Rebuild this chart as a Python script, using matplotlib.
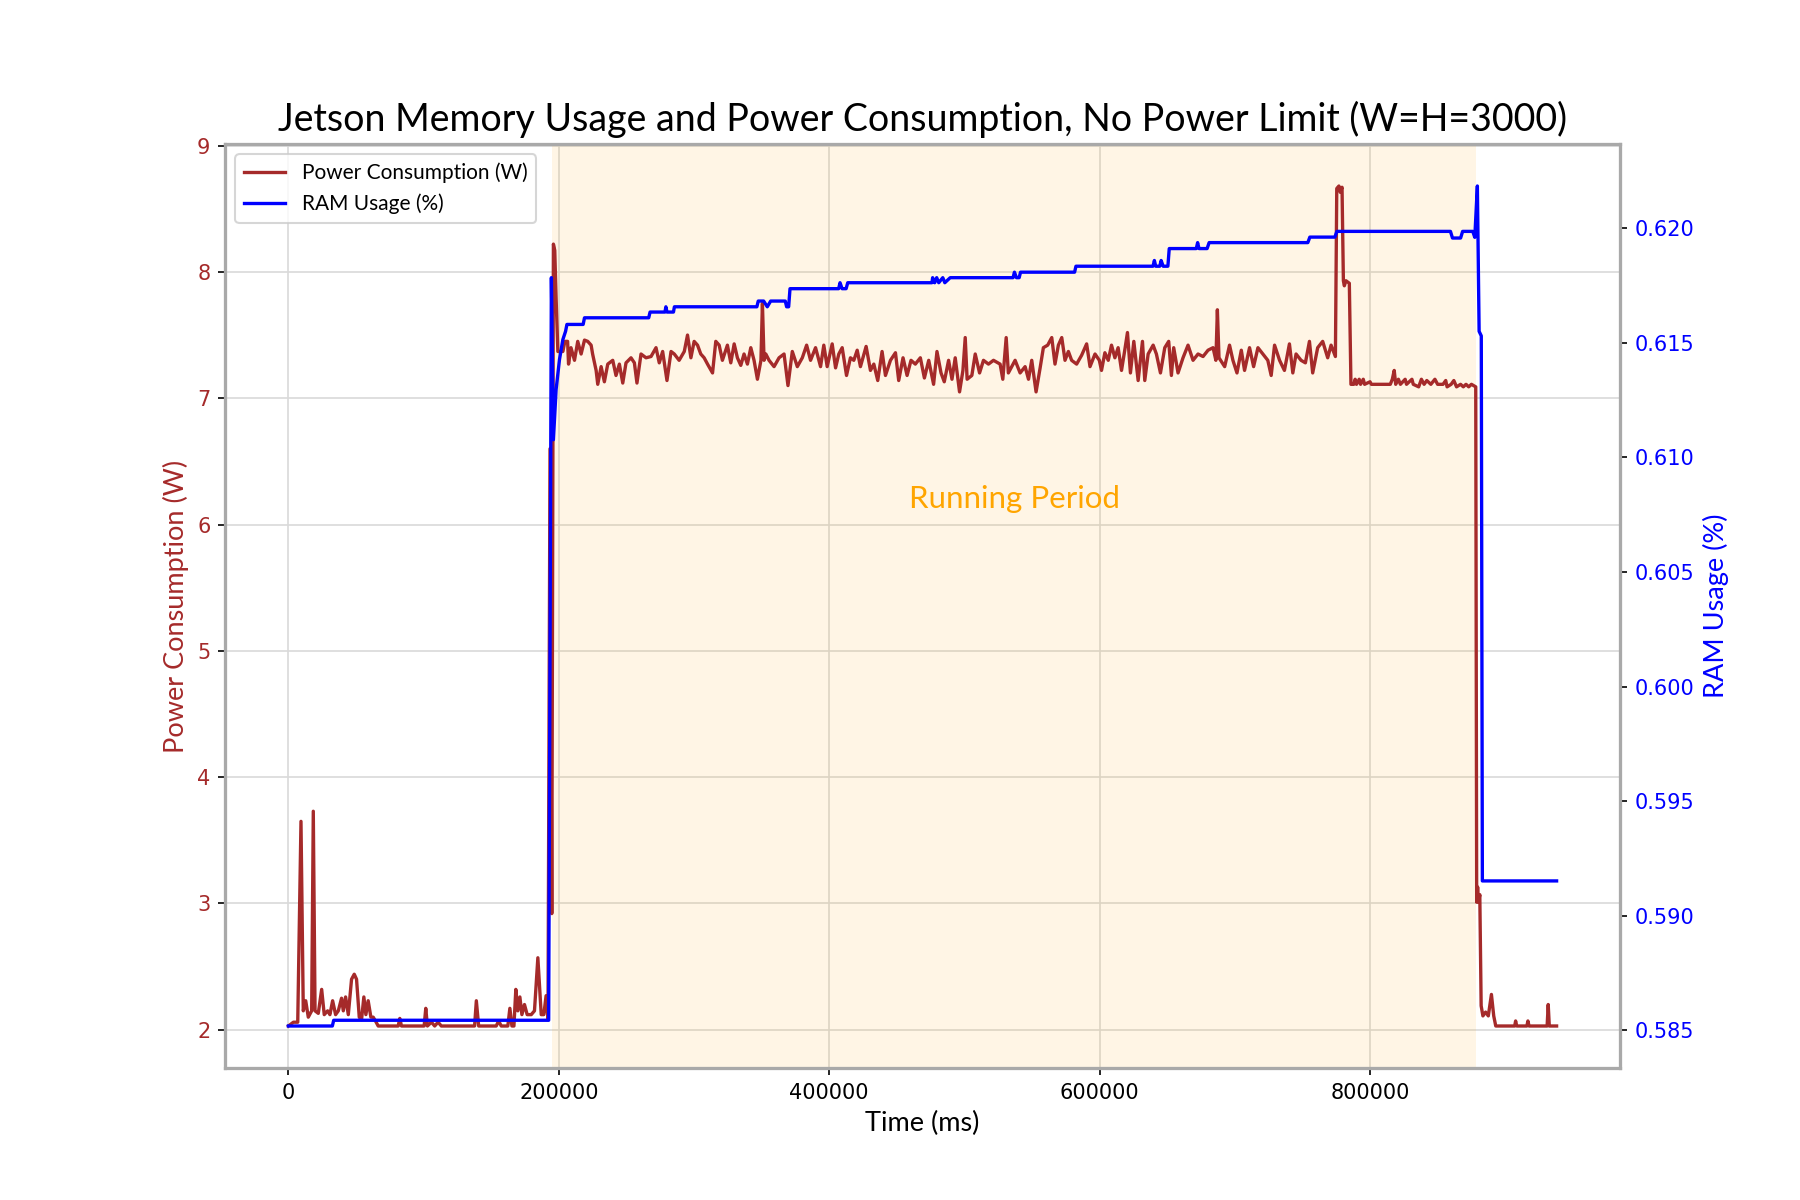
import matplotlib
matplotlib.use('Agg')
import matplotlib.pyplot as plt

# power trace (ms, W)
power_t = [
    0, 3700, 6900, 9300, 11000, 12800, 14700, 17200, 18400, 19700, 22100, 24600, 26500, 29000,
    30700, 32700, 34900, 36900, 39300, 40600, 42300, 44300, 46700, 48700, 50400, 52400, 54100,
    55800, 57300, 59000, 61000, 62700, 64400, 66400, 81200, 82400, 83600, 100400, 101600, 102800,
    105800, 108200, 110700, 113100, 137700, 139000, 140700, 153700, 155500, 157400, 162300, 163800,
    165300, 166800, 168200, 169700, 171200, 172700, 174600, 176600, 179600, 182000, 184500, 187000,
    188900, 190600, 192000, 193500, 194800, 196000, 197000, 198000, 199300, 201500, 203000, 204500,
    206500, 207200, 209000, 211600, 214000, 216500, 219000, 221400, 223900, 225000, 227600, 228800,
    231300, 233700, 236200, 239900, 242300, 244800, 247300, 249700, 253400, 255900, 257800, 260800,
    264500, 268200, 271900, 274300, 276800, 280000, 283000, 285400, 289000, 292800, 295200, 297700,
    300100, 302600, 305000, 307500, 310000, 313700, 316100, 318600, 321000, 324700, 327200, 329700,
    332100, 334600, 337000, 339500, 342000, 344400, 346900, 349500, 350600, 351800, 353100, 355500,
    359200, 362900, 366600, 369500, 372700, 376400, 380100, 383300, 386200, 389900, 393600, 396000,
    398500, 402200, 404700, 407100, 409600, 412800, 415700, 418200, 420700, 423100, 427300, 430500,
    433000, 435900, 439100, 441600, 445300, 449000, 451400, 454600, 457600, 460500, 463700, 467400,
    470400, 473600, 477200, 479700, 482700, 485100, 488300, 490800, 493200, 496400, 498900, 500600,
    502000, 505500, 508000, 511200, 514100, 517800, 521500, 526400, 528400, 530900, 532500, 537500,
    541200, 544900, 547400, 549800, 553000, 556000, 558400, 561600, 564600, 567000, 569500, 572000,
    574400, 576900, 579300, 583000, 586700, 590400, 592900, 596600, 599800, 601400, 603900, 606400,
    608800, 611300, 613700, 616200, 618600, 620600, 622800, 625300, 628500, 631700, 633400, 635900,
    639600, 642000, 645000, 648200, 651100, 653100, 654800, 658000, 661700, 665400, 669100, 672800,
    676500, 680200, 683900, 686000, 687100, 688300, 692500, 696100, 698600, 701600, 704800, 707200,
    710900, 713900, 717100, 720700, 724400, 726900, 729400, 733100, 736700, 740400, 742900, 745300,
    749000, 752200, 755200, 757600, 761300, 765000, 768700, 771200, 774400, 775400, 777000, 778000,
    779300, 780300, 781000, 782200, 784700, 785900, 788000, 789000, 790000, 792000, 793000, 795000,
    796000, 800000, 801000, 815000, 816500, 817900, 819000, 821000, 822500, 826000, 827000, 831000,
    832000, 836000, 838000, 840000, 842000, 845000, 848000, 850000, 854000, 856000, 857000, 860000,
    862000, 864000, 867000, 869000, 871000, 873000, 875000, 878200, 878900, 879600, 880300, 881200,
    882200, 883500, 885500, 887500, 889800, 891500, 893000, 907000, 907700, 908500, 916000, 916800,
    917600, 931000, 931800, 932600, 938000,
]
power_w = [
    2.03, 2.06, 2.06, 3.65, 2.15, 2.23, 2.10, 2.15, 3.73, 2.15, 2.13, 2.32, 2.12, 2.15,
    2.12, 2.23, 2.12, 2.15, 2.25, 2.15, 2.26, 2.12, 2.40, 2.44, 2.40, 2.10, 2.08,
    2.26, 2.12, 2.23, 2.10, 2.10, 2.07, 2.03, 2.03, 2.09, 2.03, 2.03, 2.17, 2.03,
    2.06, 2.03, 2.06, 2.03, 2.03, 2.23, 2.03, 2.03, 2.07, 2.03, 2.03, 2.17,
    2.03, 2.03, 2.32, 2.15, 2.26, 2.12, 2.20, 2.12, 2.12, 2.15, 2.57, 2.12,
    2.12, 2.27, 2.08, 6.60, 2.92, 8.22, 8.17, 7.79, 7.37, 7.37, 7.37, 7.45,
    7.45, 7.27, 7.40, 7.30, 7.45, 7.35, 7.46, 7.45, 7.42, 7.35, 7.22, 7.11,
    7.25, 7.13, 7.27, 7.30, 7.18, 7.27, 7.12, 7.28, 7.32, 7.28, 7.12, 7.35,
    7.32, 7.33, 7.40, 7.28, 7.37, 7.14, 7.37, 7.35, 7.30, 7.37, 7.50, 7.32,
    7.45, 7.42, 7.35, 7.32, 7.27, 7.20, 7.45, 7.42, 7.30, 7.42, 7.28, 7.43,
    7.32, 7.26, 7.35, 7.27, 7.40, 7.30, 7.15, 7.30, 7.75, 7.30, 7.35, 7.30,
    7.25, 7.32, 7.35, 7.10, 7.37, 7.25, 7.32, 7.42, 7.30, 7.40, 7.25, 7.42,
    7.25, 7.43, 7.24, 7.35, 7.40, 7.18, 7.32, 7.30, 7.38, 7.25, 7.41, 7.22,
    7.27, 7.14, 7.37, 7.18, 7.30, 7.36, 7.14, 7.32, 7.18, 7.30, 7.27, 7.32,
    7.16, 7.30, 7.11, 7.37, 7.20, 7.13, 7.30, 7.15, 7.32, 7.05, 7.22, 7.48,
    7.15, 7.18, 7.35, 7.20, 7.30, 7.27, 7.30, 7.27, 7.15, 7.48, 7.20, 7.30,
    7.20, 7.25, 7.15, 7.30, 7.05, 7.24, 7.40, 7.42, 7.48, 7.27, 7.42, 7.48,
    7.30, 7.37, 7.30, 7.27, 7.34, 7.43, 7.25, 7.35, 7.30, 7.22, 7.36, 7.30,
    7.42, 7.32, 7.40, 7.22, 7.38, 7.52, 7.20, 7.45, 7.14, 7.45, 7.14, 7.35,
    7.42, 7.35, 7.20, 7.40, 7.45, 7.18, 7.40, 7.20, 7.32, 7.42, 7.30, 7.35,
    7.33, 7.38, 7.40, 7.30, 7.70, 7.32, 7.25, 7.42, 7.30, 7.20, 7.38, 7.22,
    7.40, 7.25, 7.40, 7.35, 7.30, 7.18, 7.42, 7.30, 7.22, 7.43, 7.20, 7.35,
    7.30, 7.28, 7.45, 7.20, 7.40, 7.45, 7.32, 7.42, 7.33, 8.66, 8.68, 8.63,
    8.67, 7.93, 7.89, 7.93, 7.91, 7.11, 7.11, 7.15, 7.11, 7.15, 7.11, 7.15,
    7.11, 7.13, 7.11, 7.11, 7.15, 7.22, 7.11, 7.15, 7.11, 7.15, 7.11, 7.15,
    7.11, 7.09, 7.15, 7.11, 7.14, 7.11, 7.15, 7.11, 7.11, 7.14, 7.09, 7.11,
    7.14, 7.09, 7.11, 7.09, 7.11, 7.09, 7.11, 7.09, 3.01, 3.13, 3.01, 3.07,
    2.19, 2.11, 2.14, 2.11, 2.28, 2.11, 2.03, 2.03, 2.07, 2.03, 2.03, 2.07,
    2.03, 2.03, 2.20, 2.03, 2.03,
]

# RAM trace (ms, fraction)
ram_t = [
    0, 32500, 33500, 192500, 194500, 196000, 198000, 200500, 203000, 205000, 206000, 218000,
    219000, 266500, 267500, 278500, 279200, 280000, 284800, 285500, 346500, 347500, 351500,
    354200, 356700, 367500, 368500, 370000, 371000, 407000, 408000, 409500, 412500, 413700,
    476000, 476500, 478000, 479500, 481000, 484000, 485500, 489500, 536000, 537000, 538500,
    540500, 541500, 581500, 582500, 639500, 640500, 641500, 644500, 645500, 647000, 650500,
    651500, 671500, 672500, 673500, 679500, 681000, 754000, 755500, 774000, 775500, 859500,
    861000, 867000, 868500, 876000, 877500, 879400, 880700, 882300, 883100, 938000,
]
ram_v = [
    0.58519, 0.58519, 0.58544, 0.58544, 0.61784, 0.61077, 0.61296, 0.61427, 0.61514, 0.61550, 0.61580, 0.61580,
    0.61609, 0.61609, 0.61634, 0.61634, 0.61657, 0.61634, 0.61634, 0.61657, 0.61657, 0.61682, 0.61682,
    0.61657, 0.61682, 0.61682, 0.61657, 0.61657, 0.61736, 0.61736, 0.61762, 0.61736, 0.61736, 0.61762,
    0.61762, 0.61784, 0.61762, 0.61784, 0.61762, 0.61784, 0.61762, 0.61784, 0.61784, 0.61808, 0.61784,
    0.61784, 0.61808, 0.61808, 0.61834, 0.61834, 0.61859, 0.61834, 0.61834, 0.61859, 0.61834, 0.61834,
    0.61911, 0.61911, 0.61937, 0.61911, 0.61911, 0.61937, 0.61937, 0.61961, 0.61961, 0.61986, 0.61986,
    0.61957, 0.61957, 0.61986, 0.61986, 0.61960, 0.62184, 0.61550, 0.61530, 0.59152, 0.59152,
]

run_start, run_end = 195000, 878500

font_geo = ['Lato', 'DejaVu Sans']

fig, ax1 = plt.subplots(figsize=(12, 8), dpi=150)

ax1.axvspan(run_start, run_end, color='orange', alpha=0.1, lw=0)
ax1.text((run_start + run_end) / 2, 6.2, 'Running Period', color='orange',
         fontsize=15, ha='center', va='center', family=font_geo)

l1, = ax1.plot(power_t, power_w, color='brown', lw=1.6, label='Power Consumption (W)')
ax1.set_xlabel('Time (ms)', fontsize=13, family=font_geo)
ax1.set_ylabel('Power Consumption (W)', color='brown', fontsize=13, family=font_geo)
ax1.tick_params(axis='y', labelcolor='brown')
ax1.grid(True, color='#d9d9d9', lw=0.8)
ax1.set_axisbelow(True)

ax2 = ax1.twinx()
l2, = ax2.plot(ram_t, ram_v, color='blue', lw=1.6, label='RAM Usage (%)')
ax2.set_ylabel('RAM Usage (%)', color='blue', fontsize=13, family=font_geo)
ax2.tick_params(axis='y', labelcolor='blue')

for ax in (ax1, ax2):
    for sp in ax.spines.values():
        sp.set_color('darkgray')
        sp.set_linewidth(1.5)

leg = ax2.legend([l1, l2], [l1.get_label(), l2.get_label()], loc='upper left',
                 prop={'family': font_geo, 'size': 10})

ax1.set_title('Jetson Memory Usage and Power Consumption, No Power Limit (W=H=3000)',
              fontsize=18, family=font_geo)

fig.savefig('out.png', dpi=150)
